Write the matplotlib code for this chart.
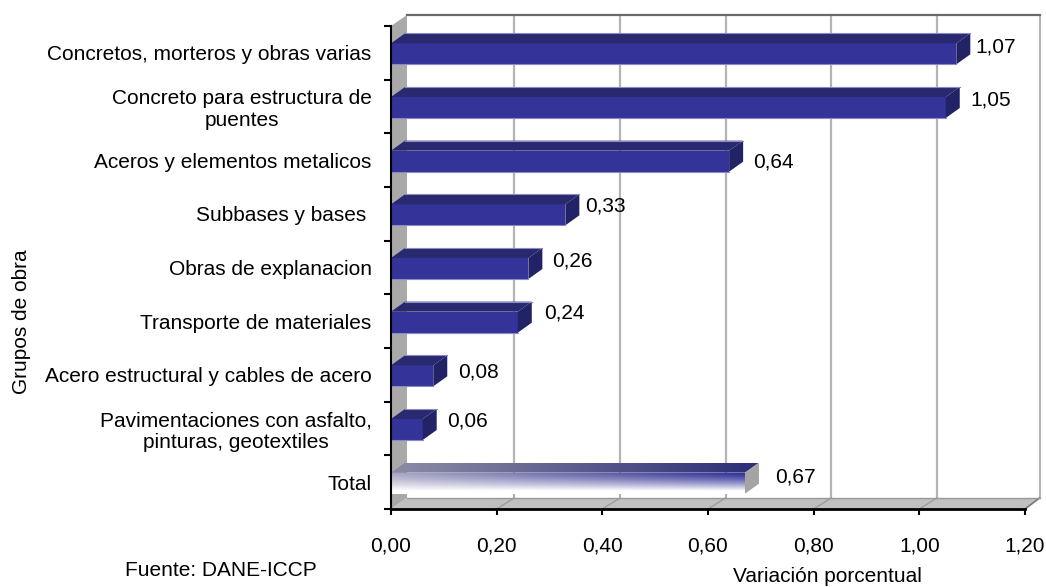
import numpy as np
import matplotlib
matplotlib.use("Agg")
import matplotlib.pyplot as plt
from matplotlib.patches import Polygon
from matplotlib.colors import to_rgb

# ── datos ──
categorias = [
    "Concretos, morteros y obras varias",
    "Concreto para estructura de\npuentes",
    "Aceros y elementos metalicos",
    "Subbases y bases ",
    "Obras de explanacion",
    "Transporte de materiales",
    "Acero estructural y cables de acero",
    "Pavimentaciones con asfalto,\npinturas, geotextiles",
    "Total",
]
variacion = [1.07, 1.05, 0.64, 0.33, 0.26, 0.24, 0.08, 0.06, 0.67]
etiquetas = ["1,07", "1,05", "0,64", "0,33", "0,26", "0,24", "0,08", "0,06", "0,67"]
xticks = [0.0, 0.2, 0.4, 0.6, 0.8, 1.0, 1.2]
xticklabels = ["0,00", "0,20", "0,40", "0,60", "0,80", "1,00", "1,20"]

# ── estilo ──
W, H = 1046, 587
FRONT = "#333399"
TOP = "#29296f"
SIDE = "#222266"
EDGE = "#8a8ac4"
WALL = "#a9a9a9"
FLOOR = "#c0c0c0"
GRID = "#b4b4b4"
FS = 15

# desplazamiento de etiquetas en pixeles (dx desde la barra, dy desde el centro de fila)
label_dx = [19, 25, 24, 20, 24, 26, 25, 24, 30]
label_dy = [6, 6.5, -2, 8, 6.5, 8, 3, 7.5, 5]

plt.rcParams["font.family"] = ["Liberation Sans", "DejaVu Sans"]
plt.rcParams["font.size"] = FS

fig = plt.figure(figsize=(W / 100, H / 100), dpi=100)
L, R, T, B = 391, 1025, 26, 509
ax = fig.add_axes([L / W, 1 - B / H, (R - L) / W, (B - T) / H])
ax.set_xlim(0, 1.2)
ax.set_ylim(len(categorias), 0)

px = 1.2 / (R - L)           # unidades x por pixel
py = len(categorias) / (B - T)  # unidades y por pixel
wall_dx, wall_dy = 16 * px, 11 * py
grid_dx = 17.5 * px
end_dx = 14.5 * px
bar_dx, bar_dy = 14 * px, 10 * py
bar_h = 21 * py
n = len(categorias)


def poly(pts, **kw):
    p = Polygon(pts, closed=True, clip_on=False, **kw)
    ax.add_patch(p)
    return p


# paredes y piso
poly([(0, 0), (wall_dx, -wall_dy), (wall_dx, n - wall_dy), (0, n)],
     facecolor=WALL, edgecolor="none", zorder=1)
poly([(0, n), (wall_dx, n - wall_dy), (1.2 + end_dx, n - wall_dy), (1.2, n)],
     facecolor=FLOOR, edgecolor="none", zorder=1)
ax.plot([wall_dx, 1.2 + end_dx], [-wall_dy, -wall_dy],
        color="#6a6a6a", lw=1.6, clip_on=False, zorder=1.3)
ax.plot([1.2 + end_dx, 1.2 + end_dx], [-wall_dy, n - wall_dy],
        color=GRID, lw=1.5, clip_on=False, zorder=1)
ax.plot([wall_dx, 1.2 + end_dx], [n - wall_dy, n - wall_dy],
        color="#999999", lw=1, clip_on=False, zorder=1.5)
for t in xticks[1:-1]:
    ax.plot([t + grid_dx, t + grid_dx], [-wall_dy, n - wall_dy],
            color=GRID, lw=1.6, clip_on=False, zorder=1.2)
    ax.plot([t, t + grid_dx], [n, n - wall_dy], color="#999999", lw=0.9,
            clip_on=False, zorder=1.2)
ax.plot([1.2, 1.2 + end_dx], [n, n - wall_dy], color="#777777", lw=1.2,
        clip_on=False, zorder=1.2)

# barras
centros = np.arange(n) + 0.5 + 1 * py
for i, (v, c) in enumerate(zip(variacion, centros)):
    y0, y1 = c - bar_h / 2, c + bar_h / 2
    if categorias[i] == "Total":
        continue
    ax.barh(c, v, height=bar_h, color=FRONT, edgecolor="none", zorder=3)
    poly([(0, y0), (bar_dx, y0 - bar_dy), (v + bar_dx, y0 - bar_dy), (v, y0)],
         facecolor=TOP, edgecolor="none", zorder=3)
    poly([(v, y0), (v + bar_dx, y0 - bar_dy), (v + bar_dx, y1 - bar_dy), (v, y1)],
         facecolor=SIDE, edgecolor="none", zorder=3)
    ax.plot([bar_dx, v + bar_dx], [y0 - bar_dy, y0 - bar_dy], color=EDGE, lw=0.8, zorder=3.1)
    ax.plot([0, v], [y1, y1], color=EDGE, lw=0.8, zorder=3.1)

# barra Total con degradado
idx = categorias.index("Total")
v = variacion[idx]
c = centros[idx]
y0, y1 = c - bar_h / 2, c + bar_h / 2
u = np.linspace(0, 1, 200)[None, :]
w = np.linspace(0, 1, 60)[:, None]

front_top = np.array(to_rgb("#a9a9c4"))[None, None, :] * (1 - u[..., None]) \
    + np.array(to_rgb(FRONT))[None, None, :] * u[..., None]
white = np.ones(3)[None, None, :]
mix = np.clip(w / 0.85, 0, 1)[..., None] ** 1.3
front = front_top * (1 - mix) + white * mix
im = ax.imshow(front, extent=(0, v, y1, y0), aspect="auto", zorder=3, clip_on=False)

top_img = np.array(to_rgb("#8c8ca6"))[None, None, :] * (1 - u[..., None]) \
    + np.array(to_rgb("#2d2d78"))[None, None, :] * u[..., None]
top_im = ax.imshow(top_img, extent=(0, v + bar_dx, y0, y0 - bar_dy), aspect="auto", zorder=3)
top_clip = poly([(0, y0), (bar_dx, y0 - bar_dy), (v + bar_dx, y0 - bar_dy), (v, y0)],
                facecolor="none", edgecolor="none", zorder=3)
top_im.set_clip_path(top_clip)
poly([(v, y0), (v + bar_dx, y0 - bar_dy), (v + bar_dx, y1 - bar_dy), (v, y1)],
     facecolor="#a4a4a4", edgecolor="none", zorder=3)
ax.set_xlim(0, 1.2)
ax.set_ylim(n, 0)

# etiquetas de datos
for v, e, dx, dy, r in zip(variacion, etiquetas, label_dx, label_dy, np.arange(n) + 0.5):
    ax.annotate(e, xy=(v, r), xytext=(dx, dy), textcoords=("offset pixels"),
                ha="left", va="center", fontsize=FS, color="black", zorder=5)

# ejes
ax.patch.set_visible(False)
for s in ("top", "right"):
    ax.spines[s].set_visible(False)
ax.spines["left"].set_linewidth(1.5)
ax.spines["bottom"].set_linewidth(2)
ax.spines["left"].set_zorder(4)
ax.spines["bottom"].set_zorder(4)
ax.set_xticks(xticks)
ax.set_xticklabels(xticklabels, fontsize=FS)
ax.tick_params(axis="x", length=4, width=1.5, pad=15.5)
ax.set_yticks(np.arange(n + 1))
ax.set_yticklabels([])
ax.tick_params(axis="y", which="major", length=5, width=1.5)
ax.set_yticks(np.arange(n) + 0.5, minor=True)
ax.set_yticklabels(categorias, minor=True, fontsize=FS, multialignment="center", linespacing=1.15)
ax.tick_params(axis="y", which="minor", length=0, pad=14)

fig.text(22 / W, 1 - 322 / H, "Grupos de obra", rotation=90, ha="center", va="center", fontsize=FS)
fig.text(827 / W, 1 - 576 / H, "Variación porcentual", ha="center", va="center", fontsize=FS)
fig.text(221 / W, 1 - 571 / H, "Fuente: DANE-ICCP", ha="center", va="center", fontsize=FS)

fig.savefig("out.png", dpi=100)
